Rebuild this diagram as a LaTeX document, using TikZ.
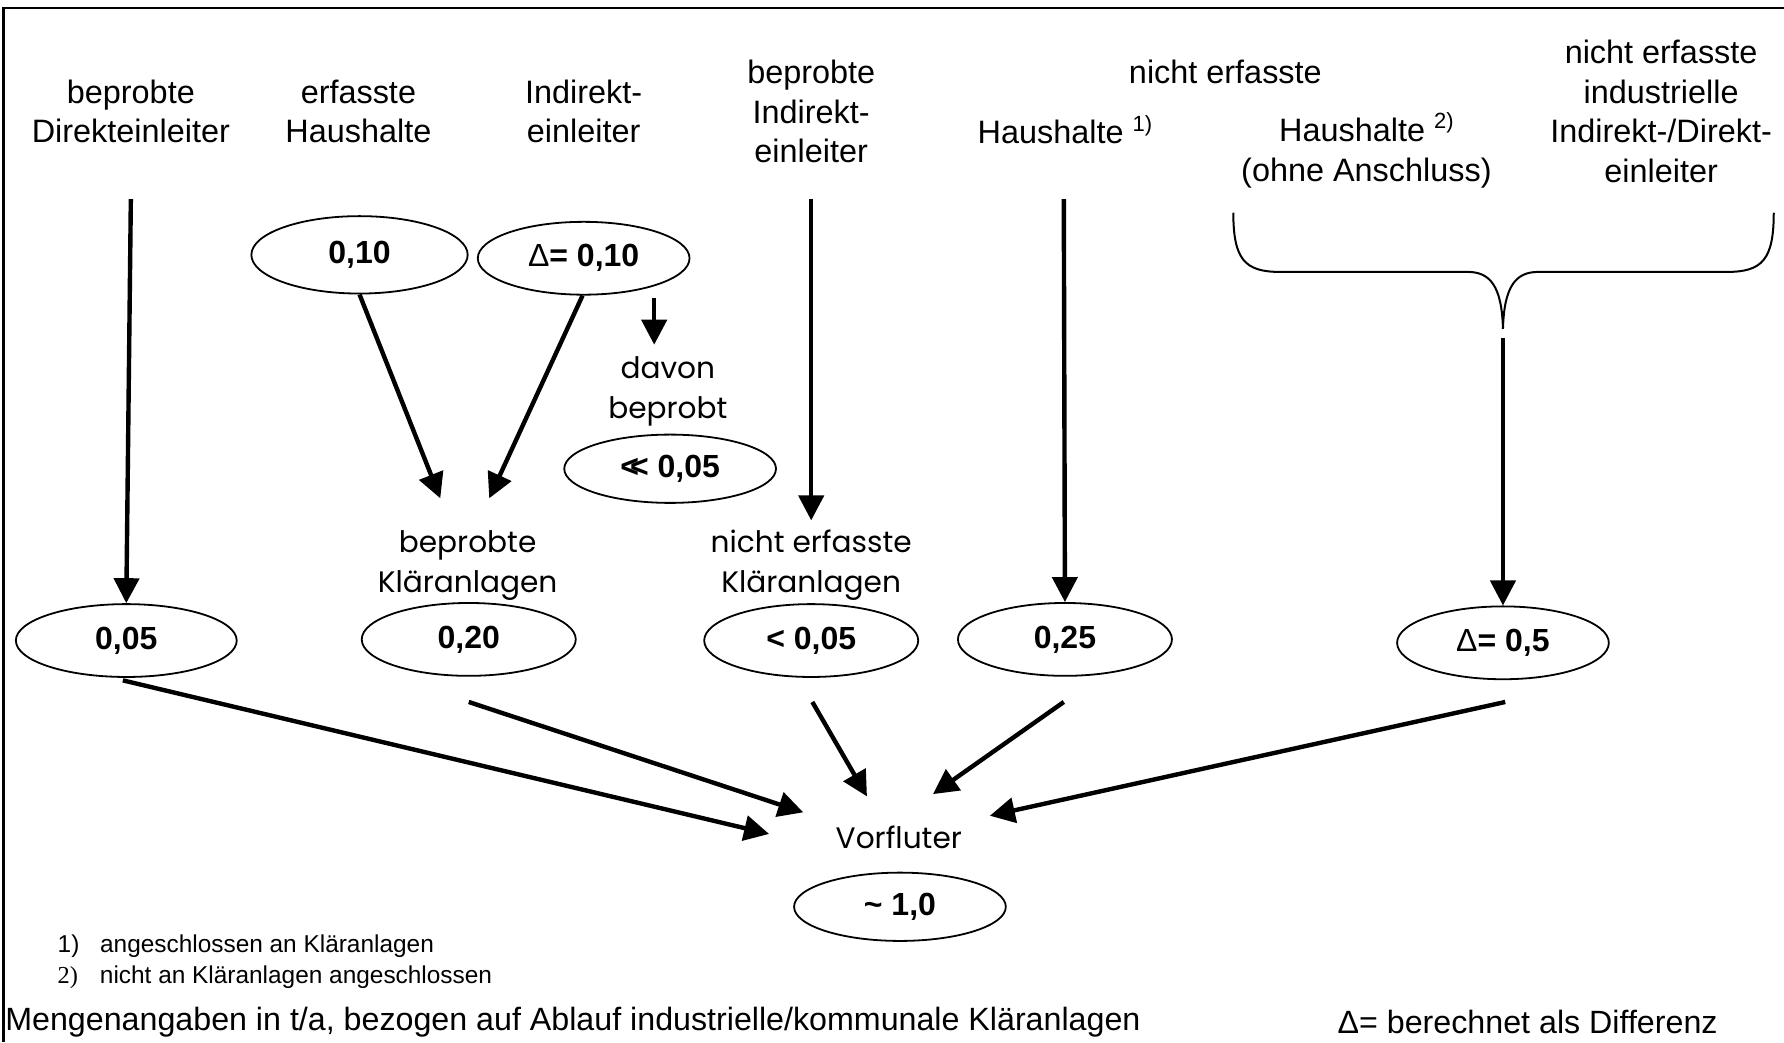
\documentclass[tikz,border=0pt]{standalone}
\usepackage{fontspec}
\setmainfont{Liberation Sans}
\newfontfamily\gfont{Poppins}
\newfontfamily\sfont{Liberation Serif}
\usetikzlibrary{arrows.meta,shapes.geometric}
\begin{document}
\begin{tikzpicture}[x=0.01cm,y=-0.01cm,
  lbl/.style={align=center,font=\fontsize{8.1}{9.9}\selectfont,inner sep=0},
  glbl/.style={align=center,font=\gfont\fontsize{7.4}{9.9}\selectfont,inner sep=0},
  val/.style={ellipse,draw,line width=0.45pt,minimum width=1.88cm,minimum height=0.64cm,inner sep=0,
    font=\bfseries\fontsize{8}{9.6}\selectfont},
  flow/.style={line width=1.1pt,-{Triangle[length=0.22cm,width=0.22cm]}},
  note/.style={anchor=west,inner sep=0,font=\fontsize{6.1}{7}\selectfont},
  foot/.style={anchor=west,inner sep=0,font=\fontsize{8.05}{9.8}\selectfont},
]
\useasboundingbox (0,0) rectangle (1568,916);
% frame
\draw[line width=0.6pt] (3,916) -- (3,7) -- (1568,7);

% sources
\node[lbl] (dl)  at (115,98)  {beprobte\\Direkteinleiter};
\node[lbl] (eh)  at (315,98)  {erfasste\\Haushalte};
\node[lbl] (il)  at (513,98)  {Indirekt-\\einleiter};
\node[lbl] (bil) at (713,98)  {beprobte\\Indirekt-\\einleiter};
\node[lbl] (ne)  at (1077,63) {nicht erfasste};
\node[lbl] (h1)  at (936,114) {Haushalte \raisebox{0.75ex}{\fontsize{5.5}{6}\selectfont 1)}};
\node[lbl] (h2)  at (1201,132) {Haushalte \raisebox{0.75ex}{\fontsize{5.5}{6}\selectfont 2)}\\(ohne Anschluss)};
\node[lbl] (ni)  at (1460,98) {nicht erfasste\\industrielle\\Indirekt-/Direkt-\\einleiter};

% values
\node[val,minimum width=1.90cm,minimum height=0.68cm] (v1) at (316,224) {0,10};
\node[val,minimum width=1.86cm] (v2) at (513,227) {{\mdseries Δ}= 0,10};
\node[val,minimum width=1.86cm,minimum height=0.60cm] (v3) at (589,412) {<\kern-0.28em< 0,05};
\node[val,minimum width=1.94cm] (a1) at (111,563) {0,05};
\node[val] (a2) at (412,562) {0,20};
\node[val] (a3) at (713,563) {< 0,05};
\node[val] (a4) at (936,562) {0,25};
\node[val,minimum width=1.86cm] (a5) at (1321,565) {{\mdseries Δ}= 0,5};
\node[val,minimum width=1.86cm,minimum height=0.60cm] (vf) at (791,797) {\textasciitilde\ 1,0};

% intermediate labels
\node[glbl] (db)  at (587,344) {davon\\beprobt};
\node[glbl] (bka) at (411,497) {beprobte\\Kläranlagen};
\node[glbl] (nka) at (713,497) {nicht erfasste\\Kläranlagen};
\node[glbl] (vor) at (790,736) {Vorfluter};

% connector end points
\coordinate (s1) at (115,175);
\coordinate (s2) at (713,175);
\coordinate (s3) at (935,175);
\coordinate (s4) at (1321,297);
\coordinate (s5) at (575,262);
\coordinate (d5) at (575,303);
\coordinate (kl) at (387,438);
\coordinate (kr) at (430,438);
\coordinate (u1) at (108,598);
\coordinate (u2) at (412,617);
\coordinate (u3) at (714,617);
\coordinate (u4) at (935,617);
\coordinate (u5) at (1323,617);
\coordinate (t1) at (676,733);
\coordinate (t2) at (706,714);
\coordinate (t3) at (762,700);
\coordinate (t4) at (820,698);
\coordinate (t5) at (870,717);

% vertical flows
\draw[flow] (s1) -- (a1.north);
\draw[flow] (s2) -- ([yshift=0.08cm]nka.north);
\draw[flow] (s3) -- (a4.north);
\draw[flow] (s4) -- (a5.north);
\draw[flow] (s5) -- (d5);

% into the treatment plants
\draw[flow] (v1.south) -- (kl);
\draw[flow] ([xshift=-0.01cm]v2.south) -- (kr);

% brace over the unrecorded sources
\coordinate (bt) at (1321,289);
\draw[line width=0.5pt] (1084,187) .. controls (1084,228) and (1094,239) .. (1125,239)
  -- (1290,239) .. controls (1310,239) and (1320,252) .. (bt);
\draw[line width=0.5pt] (1559,187) .. controls (1559,228) and (1549,239) .. (1518,239)
  -- (1352,239) .. controls (1332,239) and (1322,252) .. (bt);

% into the receiving water
\draw[flow] (u1) -- (t1);
\draw[flow] (u2) -- (t2);
\draw[flow] (u3) -- (t3);
\draw[flow] (u4) -- (t4);
\draw[flow] (u5) -- (t5);

% footnotes
\node[note] (n1) at (50,832) {1)\hspace{0.85em}angeschlossen an Kläranlagen};
\node[note] (n2) at (50,859) {{\sfont 2)}\hspace{0.9em}nicht an Kläranlagen angeschlossen};
\node[foot] (f1) at (4,898) {Mengenangaben in t/a, bezogen auf Ablauf industrielle/kommunale Kläranlagen};
\node[foot] (f2) at (1175,898) {Δ= berechnet als Differenz};
\end{tikzpicture}
\end{document}
